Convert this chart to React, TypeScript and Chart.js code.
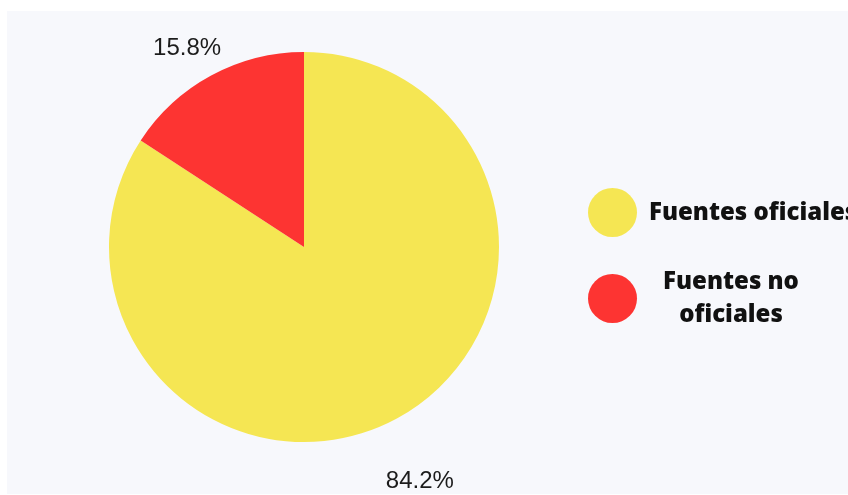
import React, { useEffect, useRef } from "react";
import { Chart, registerables } from "chart.js";

Chart.register(...registerables);

const labels = ["Fuentes oficiales", "Fuentes no oficiales"];
const values = [84.2, 15.8];
const colors = ["#F5E653", "#FD3432"];
const valueLabels = ["84.2%", "15.8%"];
const labelShiftX = [23, -24];
const labelShiftY = [63, -27];

const percentLabels = {
  id: "percentLabels",
  afterDatasetsDraw(chart: any) {
    const ctx = chart.ctx;
    const meta = chart.getDatasetMeta(0);
    ctx.save();
    ctx.font = '24px "Liberation Sans", Arial, sans-serif';
    ctx.fillStyle = "#1c1c1c";
    ctx.textAlign = "center";
    ctx.textBaseline = "middle";
    meta.data.forEach((arc: any, i: number) => {
      const p = arc.getProps(["x", "y", "startAngle", "endAngle", "outerRadius"], true);
      const mid = (p.startAngle + p.endAngle) / 2;
      const ex = p.x + Math.cos(mid) * p.outerRadius;
      const ey = p.y + Math.sin(mid) * p.outerRadius;
      ctx.fillText(valueLabels[i], ex + labelShiftX[i], ey + labelShiftY[i]);
    });
    ctx.restore();
  },
};

export default function App() {
  const ref = useRef<HTMLCanvasElement | null>(null);
  useEffect(() => {
    if (!ref.current) return;
    const chart = new Chart(ref.current, {
      type: "pie",
      data: {
        labels,
        datasets: [
          {
            data: values,
            backgroundColor: colors,
            borderWidth: 0,
            hoverOffset: 0,
          },
        ],
      },
      options: {
        animation: false,
        responsive: false,
        maintainAspectRatio: false,
        layout: { padding: { left: 109, right: 349, top: 52, bottom: 53 } },
        plugins: {
          legend: { display: false },
          tooltip: { enabled: false },
        },
      },
      plugins: [percentLabels],
    });
    return () => chart.destroy();
  }, []);

  const legendFont = '"Open Sans", sans-serif';
  return (
    <div
      style={{
        position: "fixed",
        left: 0,
        top: 0,
        width: 848,
        height: 495,
        background: "#ffffff",
        overflow: "hidden",
      }}
    >
      <div
        style={{
          position: "absolute",
          left: 7,
          top: 11,
          width: 841,
          height: 483,
          background: "#F7F8FC",
        }}
      />
      <canvas
        ref={ref}
        width={848}
        height={495}
        style={{ position: "absolute", left: 0, top: 0, width: 848, height: 495 }}
      />
      {labels.map((label, i) => (
        <React.Fragment key={label}>
          <div
            style={{
              position: "absolute",
              left: 588,
              top: i === 0 ? 188 : 274,
              width: 49,
              height: 49,
              borderRadius: "50%",
              background: colors[i],
            }}
          />
          <div
            style={{
              position: "absolute",
              left: 649,
              top: i === 0 ? 194.7 : 263.2,
              width: i === 0 ? 260 : 164,
              fontFamily: legendFont,
              fontWeight: 800,
              fontSize: 24,
              lineHeight: i === 0 ? "32px" : "33px",
              color: "#111111",
              textAlign: i === 0 ? "left" : "center",
              whiteSpace: i === 0 ? "nowrap" : "normal",
            }}
          >
            {label}
          </div>
        </React.Fragment>
      ))}
    </div>
  );
}
